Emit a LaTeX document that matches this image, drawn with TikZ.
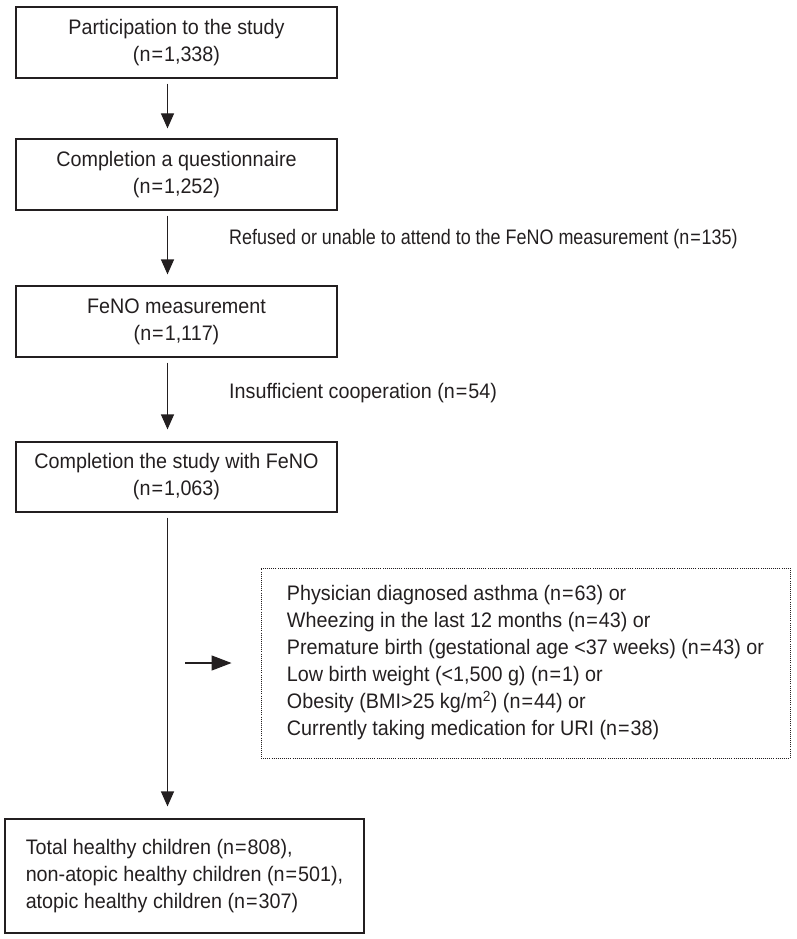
\documentclass[tikz,border=0pt]{standalone}
\usepackage{fontspec}
\setmainfont{Liberation Sans}[FakeStretch=0.94]
\newfontfamily\narrowfont{Liberation Sans}[FakeStretch=0.855]
\usetikzlibrary{arrows.meta}
\definecolor{ink}{HTML}{231F20}
\newcommand{\eqs}{\kern1pt=\kern1pt}
\begin{document}
\begin{tikzpicture}[x=1pt,y=-1pt,
  every node/.style={font=\fontsize{21}{27}\selectfont, text=ink},
  box/.style={draw=ink, line width=1.2pt, minimum width=321pt, minimum height=71pt, align=center, inner sep=0pt},
  exbox/.style={draw=ink, line width=0.9pt, dash pattern=on 0.9pt off 1.2pt, minimum width=529pt, minimum height=190pt, align=left, inner sep=0pt},
  endbox/.style={draw=ink, line width=1.2pt, minimum width=359pt, minimum height=114pt, align=left, inner sep=0pt},
  varr/.style={draw=ink, line width=1.2pt, -{Triangle[width=13pt,length=15pt]}},
  harr/.style={draw=ink, line width=1.2pt, -{Triangle[width=15pt,length=20pt]}},
  lbl/.style={anchor=west, inner sep=0pt}
]
\useasboundingbox (0,0) rectangle (796,939);

\node[box] (b1) at (176.5,42.5) {Participation to the study\\(n\eqs 1,338)};
\node[box] (b2) at (176.5,174.5) {Completion a questionnaire\\(n\eqs 1,252)};
\node[box] (b3) at (176.5,321.5) {FeNO measurement\\(n\eqs 1,117)};
\node[box, minimum height=70pt] (b4) at (176.5,477) {Completion the study with FeNO\\(n\eqs 1,063)};
\node[endbox] (b5) at (184.5,876) {Total healthy children (n\eqs 808),\\non-atopic healthy children (n\eqs 501),\\atopic healthy children (n\eqs 307)};

\node[exbox] (ex) at (525.5,663) {Physician diagnosed asthma (n\eqs 63) or\\
Wheezing in the last 12 months (n\eqs 43) or\\
Premature birth (gestational age \textless 37 weeks) (n\eqs 43) or\\
Low birth weight (\textless 1,500 g) (n\eqs 1) or\\
Obesity (BMI\textgreater 25 kg/m\textsuperscript{2}) (n\eqs 44) or\\
Currently taking medication for URI (n\eqs 38)};

\node[lbl, font=\fontsize{21}{27}\narrowfont] (l1) at (229,239) {Refused or unable to attend to the FeNO measurement (n\eqs 135)};
\node[lbl] (l2) at (229,393) {Insufficient cooperation (n\eqs 54)};

\coordinate (ax) at (167.5,0);
\coordinate (hs) at (185,663);

\draw[varr, shorten <=5pt, shorten >=10pt] (b1.south -| ax) -- (b2.north -| ax);
\draw[varr, shorten <=5pt, shorten >=11pt] (b2.south -| ax) -- (b3.north -| ax);
\draw[varr, shorten <=5pt, shorten >=12pt] (b3.south -| ax) -- (b4.north -| ax);
\draw[varr, shorten <=5pt, shorten >=12pt] (b4.south -| ax) -- (b5.north -| ax);
\draw[harr, shorten >=29pt] (hs) -- (ex.west);
\end{tikzpicture}
\end{document}
